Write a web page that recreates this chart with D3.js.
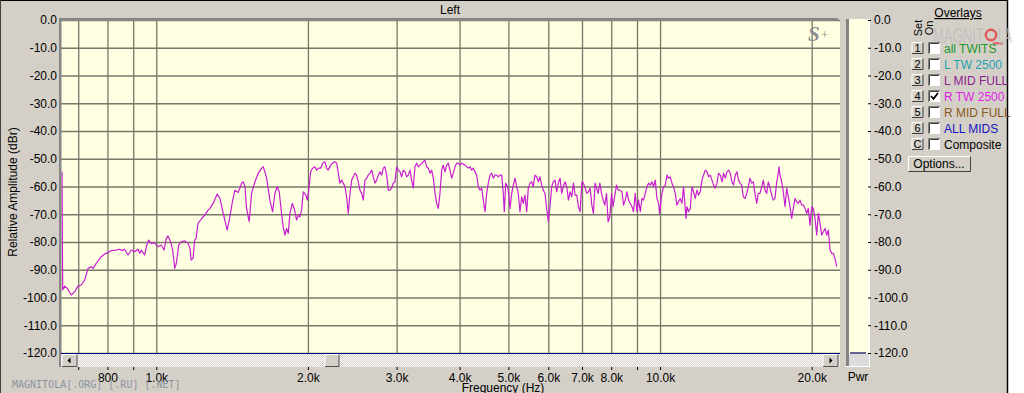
<!DOCTYPE html>
<html>
<head>
<meta charset="utf-8">
<script src="https://cdn.jsdelivr.net/npm/d3@7"></script>
<style>
	body { margin: 0; background: #ffffff; }
	svg { display: block; font-family: Arial, "Liberation Sans", sans-serif; }
	.grid line { stroke: #78786a; stroke-width: 1.3; }
	.axis text { font-size: 12px; fill: #000; }
	.axis line { stroke: #000; }
</style>
</head>
<body>
<div id="chart"></div>
<script>

// frequency response of the "R TW 2500" overlay, [Hz, dBr]
var rTw2500 = [
	[650,-54.7],[652,-97.3],[658,-95.9],[666,-96.7],[678,-99.1],[689,-97.9],[699,-95.9],[710,-95.5],
	[721,-93.7],[732,-89.5],[743,-88.9],[749,-89.5],[760,-87.7],[778,-85.3],[790,-84.3],[802,-83.9],
	[814,-83.1],[833,-82.9],[846,-82.6],[855,-83.1],[865,-82.6],[879,-84.7],[892,-82.9],[906,-83.5],
	[920,-82.6],[927,-84.1],[934,-82.9],[948,-84.7],[955,-81.9],[966,-79.3],[977,-80.5],[992,-80.3],
	[1008,-81.7],[1023,-81.1],[1036,-82.9],[1047,-78.7],[1055,-77.8],[1068,-79.9],[1079,-83.5],[1088,-89.5],
	[1096,-87.7],[1108,-81.1],[1121,-79.9],[1139,-79.6],[1156,-80.5],[1167,-82.3],[1173,-86.5],[1183,-85.9],
	[1192,-79.3],[1200,-78.7],[1210,-73.3],[1228,-71.8],[1248,-70.3],[1267,-68.5],[1278,-67.9],[1297,-66.1],
	[1321,-62.7],[1338,-64.3],[1358,-69.7],[1383,-75.7],[1400,-70.9],[1418,-64.9],[1433,-61.3],[1454,-62.2],
	[1477,-58.8],[1488,-58.3],[1500,-60.1],[1511,-67.9],[1529,-72.7],[1546,-62.5],[1570,-58.3],[1594,-55.2],
	[1619,-53.4],[1630,-52.9],[1643,-54.7],[1656,-57.0],[1681,-64.9],[1702,-69.1],[1720,-62.5],[1738,-60.1],
	[1754,-61.9],[1773,-69.7],[1786,-74.5],[1800,-77.5],[1814,-75.1],[1828,-76.9],[1842,-69.7],[1862,-66.1],
	[1879,-67.9],[1899,-72.1],[1913,-70.3],[1928,-70.9],[1943,-68.5],[1958,-61.9],[1982,-63.1],[1994,-64.9],
	[2006,-61.9],[2025,-54.7],[2043,-53.4],[2065,-52.9],[2081,-54.1],[2100,-53.4],[2120,-53.4],[2139,-51.6],
	[2162,-51.1],[2178,-53.4],[2194,-54.1],[2219,-52.3],[2245,-51.4],[2263,-51.1],[2281,-51.6],[2298,-55.2],
	[2315,-58.8],[2334,-57.7],[2351,-58.8],[2369,-60.1],[2387,-63.7],[2405,-69.7],[2424,-62.5],[2443,-57.7],
	[2461,-56.5],[2480,-55.2],[2499,-55.9],[2517,-58.3],[2537,-61.3],[2557,-62.5],[2576,-64.9],[2596,-57.7],
	[2616,-57.0],[2635,-55.9],[2656,-55.2],[2677,-54.1],[2696,-56.5],[2717,-58.8],[2738,-57.7],[2759,-55.9],
	[2780,-54.7],[2802,-55.9],[2822,-53.4],[2844,-52.9],[2867,-55.9],[2888,-61.3],[2910,-61.3],[2933,-60.6],
	[2954,-58.8],[2977,-58.3],[3001,-52.9],[3023,-54.1],[3046,-54.7],[3070,-56.5],[3092,-54.1],[3117,-54.7],
	[3141,-56.5],[3164,-55.9],[3189,-54.1],[3213,-57.7],[3237,-60.6],[3262,-52.9],[3288,-51.6],[3312,-52.9],
	[3338,-52.3],[3364,-51.6],[3388,-51.1],[3415,-50.5],[3442,-52.9],[3467,-53.4],[3494,-55.2],[3521,-54.1],
	[3547,-57.0],[3575,-62.5],[3603,-66.1],[3629,-67.9],[3657,-62.5],[3686,-54.1],[3713,-52.3],[3742,-54.7],
	[3771,-52.3],[3799,-51.6],[3828,-54.1],[3858,-57.0],[3887,-55.2],[3917,-52.9],[3947,-51.6],[3976,-51.6],
	[4007,-52.3],[4038,-51.6],[4100,-52.3],[4162,-53.4],[4195,-52.9],[4227,-54.1],[4258,-53.4],[4292,-54.7],
	[4325,-55.9],[4357,-60.1],[4391,-61.3],[4426,-60.6],[4458,-64.9],[4493,-69.1],[4528,-62.5],[4561,-58.8],
	[4597,-55.9],[4633,-55.2],[4667,-57.0],[4703,-55.9],[4740,-55.9],[4774,-56.5],[4812,-55.9],[4849,-55.9],
	[4885,-62.5],[4907,-69.1],[4939,-58.8],[4984,-60.1],[5014,-63.7],[5037,-67.9],[5076,-62.5],[5113,-59.5],
	[5153,-57.0],[5193,-60.1],[5231,-62.5],[5272,-69.1],[5313,-63.7],[5352,-66.1],[5394,-63.1],[5436,-69.1],
	[5476,-60.6],[5519,-58.8],[5562,-58.3],[5602,-60.1],[5646,-55.9],[5690,-56.5],[5732,-58.3],[5777,-56.5],
	[5822,-59.5],[5864,-61.3],[5910,-62.5],[5956,-67.9],[6000,-72.7],[6047,-67.3],[6094,-60.1],[6139,-58.3],
	[6187,-57.7],[6235,-61.9],[6281,-58.8],[6330,-57.0],[6379,-62.5],[6426,-60.1],[6476,-58.3],[6530,-60.1],
	[6578,-64.9],[6629,-61.9],[6681,-63.7],[6730,-58.8],[6783,-63.1],[6836,-63.1],[6886,-67.3],[6939,-69.1],
	[6996,-58.3],[7045,-58.8],[7100,-60.6],[7155,-62.5],[7208,-61.9],[7264,-60.6],[7321,-66.7],[7374,-69.7],
	[7432,-58.8],[7480,-60.6],[7535,-62.5],[7594,-58.8],[7653,-62.5],[7709,-64.9],[7769,-66.7],[7830,-62.5],
	[7887,-72.7],[7949,-70.9],[8011,-62.5],[8070,-67.3],[8133,-63.1],[8196,-59.5],[8256,-61.3],[8321,-61.3],
	[8402,-61.9],[8463,-66.7],[8529,-64.9],[8596,-61.9],[8659,-64.9],[8727,-66.1],[8795,-67.3],[8859,-69.1],
	[8928,-62.5],[8998,-69.1],[9064,-64.9],[9135,-69.1],[9206,-64.3],[9274,-64.9],[9346,-62.5],[9419,-60.1],
	[9488,-58.8],[9562,-59.5],[9637,-58.3],[9707,-60.1],[9783,-57.7],[9859,-64.3],[9932,-66.1],[9977,-69.7],
	[10023,-66.7],[10087,-62.5],[10161,-60.1],[10241,-59.5],[10320,-55.9],[10396,-57.0],[10477,-56.5],[10559,-58.8],
	[10636,-60.1],[10719,-62.5],[10803,-66.7],[10882,-65.5],[10967,-64.3],[11053,-66.1],[11134,-60.1],[11221,-67.9],
	[11257,-71.5],[11308,-67.3],[11391,-69.1],[11480,-67.9],[11570,-60.1],[11655,-61.9],[11746,-64.3],[11837,-61.3],
	[11924,-63.1],[12017,-61.9],[12111,-57.7],[12200,-55.9],[12295,-54.1],[12391,-54.7],[12482,-56.5],[12579,-55.9],
	[12677,-57.7],[12770,-59.5],[12870,-60.6],[12971,-58.8],[13066,-55.2],[13168,-55.9],[13271,-58.3],[13368,-55.2],
	[13472,-57.0],[13577,-54.7],[13677,-54.1],[13784,-55.2],[13891,-58.3],[13993,-59.5],[14102,-55.9],[14212,-54.7],
	[14317,-57.7],[14411,-58.8],[14524,-59.5],[14630,-63.7],[14744,-64.3],[14859,-62.5],[14969,-60.1],[15085,-57.0],
	[15203,-58.8],[15314,-58.3],[15434,-62.5],[15554,-66.1],[15668,-62.5],[15790,-62.5],[15914,-60.1],[16031,-57.7],
	[16156,-61.3],[16282,-62.5],[16401,-58.3],[16529,-60.6],[16658,-63.1],[16781,-64.9],[16911,-64.3],[17043,-58.3],
	[17121,-56.5],[17223,-52.9],[17302,-55.9],[17437,-58.3],[17565,-61.9],[17702,-67.3],[17840,-60.6],[17971,-63.7],
	[18112,-67.3],[18253,-71.5],[18387,-67.9],[18530,-64.3],[18675,-65.5],[18812,-66.1],[18959,-64.9],[19106,-66.7],
	[19246,-66.7],[19397,-67.9],[19548,-69.7],[19692,-67.9],[19845,-73.9],[20000,-67.3],[20147,-67.9],[20304,-71.5],
	[20462,-77.5],[20613,-69.7],[20773,-73.3],[20935,-77.5],[21089,-76.3],[21254,-75.1],[21419,-77.5],[21576,-75.7],
	[21745,-82.9],[21913,-84.1],[22075,-84.1],[22248,-85.9],[22419,-88.9]
];

// axes
var freqDomain = [647, 22760];
var dbDomain = [0, -120];
var dbTicks = [0, -10, -20, -30, -40, -50, -60, -70, -80, -90, -100, -110, -120];
var freqTicks = [700, 800, 900, 1000, 2000, 3000, 4000, 5000, 6000, 7000, 8000, 9000, 10000, 20000];
var freqTickLabels = ["", "800", "", "1.0k", "2.0k", "3.0k", "4.0k", "5.0k", "6.0k", "7.0k", "8.0k", "", "10.0k", "20.0k"];

// overlay list on the right
var overlaySets = ["1", "2", "3", "4", "5", "6", "C"];
var overlayNames = ["all TWITS", "L TW 2500", "L MID FULL", "R TW 2500", "R MID FULL", "ALL MIDS", "Composite"];
var overlayChecked = [false, false, false, true, false, false, false];
var overlayColors = ["#20962a", "#22a2b2", "#8e1c92", "#e01ee6", "#8a5a1a", "#1414c0", "#000000"];


/*
 * SpectrumVis - Object constructor function
 * @param _parentElement 	-- the HTML element in which to draw the visualization
 * @param _data						-- the response curve
 */
SpectrumVis = function(_parentElement, _data){
	this.parentElement = _parentElement;
	this.data = _data;
	this.initVis();
}

SpectrumVis.prototype.initVis = function(){
	var vis = this;

	vis.width = 1024;
	vis.height = 393;
	vis.plot = { left: 61, right: 840, top: 20, bottom: 353 };

	vis.svg = d3.select("#" + vis.parentElement).append("svg")
		.attr("width", vis.width)
		.attr("height", vis.height);

	// window background and frame
	vis.svg.append("rect").attr("width", vis.width).attr("height", vis.height).attr("fill", "#d4d0c8");
	vis.svg.append("rect").attr("x", 1008).attr("width", 16).attr("height", vis.height).attr("fill", "#ffffff");
	vis.svg.append("line").attr("x1", 1007.5).attr("x2", 1007.5).attr("y1", 0).attr("y2", vis.height)
		.attr("stroke", "#000").attr("stroke-width", 1.5);
	vis.svg.append("line").attr("x1", 0).attr("x2", 1008).attr("y1", 0.5).attr("y2", 0.5)
		.attr("stroke", "#000");
	vis.svg.append("line").attr("x1", 0.5).attr("x2", 0.5).attr("y1", 0).attr("y2", vis.height)
		.attr("stroke", "#404040");

	vis.x = d3.scaleLog().domain(freqDomain).range([vis.plot.left, vis.plot.right]);
	vis.y = d3.scaleLinear().domain(dbDomain).range([vis.plot.top, vis.plot.bottom]);

	vis.drawPlot();
	vis.drawScrollbar();
	vis.drawMeter();
	vis.drawOverlays();
	vis.drawTexts();
}

SpectrumVis.prototype.drawPlot = function(){
	var vis = this;
	var p = vis.plot;

	vis.svg.append("rect")
		.attr("x", p.left).attr("y", p.top)
		.attr("width", p.right - p.left).attr("height", p.bottom - p.top)
		.attr("fill", "#ffffe1");

	// grid lines, drawn with the axes themselves
	vis.svg.append("g")
		.attr("class", "grid")
		.attr("transform", "translate(0," + p.bottom + ")")
		.call(d3.axisBottom(vis.x).tickValues(freqTicks).tickSize(-(p.bottom - p.top)).tickFormat(""))
		.call(function(g){ g.select(".domain").remove(); });

	vis.svg.append("g")
		.attr("class", "grid")
		.attr("transform", "translate(" + p.left + ",0)")
		.call(d3.axisLeft(vis.y).tickValues(dbTicks).tickSize(-(p.right - p.left)).tickFormat(""))
		.call(function(g){ g.select(".domain").remove(); });

	// y axis labels
	vis.svg.append("g")
		.attr("class", "axis")
		.attr("transform", "translate(" + p.left + ",0)")
		.call(d3.axisLeft(vis.y).tickValues(dbTicks).tickSize(0).tickPadding(4)
			.tickFormat(function(d){ return d.toFixed(1); }))
		.call(function(g){ g.select(".domain").remove(); });

	// the response curve
	vis.svg.append("clipPath").attr("id", "plot-clip")
		.append("rect")
		.attr("x", p.left).attr("y", p.top)
		.attr("width", p.right - p.left).attr("height", p.bottom - p.top);

	var line = d3.line()
		.x(function(d){ return vis.x(d[0]); })
		.y(function(d){ return vis.y(d[1]); });

	vis.svg.append("path")
		.datum(vis.data)
		.attr("clip-path", "url(#plot-clip)")
		.attr("fill", "none")
		.attr("stroke", "#c81ed2")
		.attr("stroke-width", 1.2)
		.attr("stroke-linejoin", "round")
		.attr("d", line);

	// sunken border on top and left
	vis.svg.append("rect").attr("x", 59).attr("y", 18).attr("width", p.right - 59 - 2).attr("height", 3)
		.attr("fill", "#868686");
	vis.svg.append("rect").attr("x", 59).attr("y", 18).attr("width", 2.5).attr("height", 349)
		.attr("fill", "#868686");

	// S+ logo
	vis.svg.append("text").attr("x", 808).attr("y", 41)
		.attr("font-family", "'Liberation Serif', serif").attr("font-style", "italic")
		.attr("font-weight", "bold").attr("font-size", 21).attr("fill", "#8e8e8e")
		.text("S");
	vis.svg.append("text").attr("x", 821).attr("y", 39)
		.attr("font-family", "'Liberation Serif', serif").attr("font-size", 13).attr("fill", "#8e8e8e")
		.text("+");
}

SpectrumVis.prototype.drawScrollbar = function(){
	var vis = this;
	var p = vis.plot;

	var defs = vis.svg.append("defs");
	var pat = defs.append("pattern").attr("id", "hatch")
		.attr("width", 2).attr("height", 2).attr("patternUnits", "userSpaceOnUse");
	pat.append("rect").attr("width", 2).attr("height", 2).attr("fill", "#d4d0c8");
	pat.append("rect").attr("width", 1).attr("height", 1).attr("fill", "#ffffff");
	pat.append("rect").attr("x", 1).attr("y", 1).attr("width", 1).attr("height", 1).attr("fill", "#ffffff");

	vis.svg.append("rect").attr("x", p.left).attr("y", p.bottom)
		.attr("width", p.right - p.left).attr("height", 14).attr("fill", "url(#hatch)");
	vis.svg.append("line").attr("x1", p.left).attr("x2", p.right)
		.attr("y1", p.bottom + 0.5).attr("y2", p.bottom + 0.5)
		.attr("stroke", "#000080").attr("stroke-width", 1.2);

	var buttons = [
		{ x: 62, w: 15, arrow: "left" },
		{ x: 325, w: 14, arrow: null },
		{ x: 823, w: 15, arrow: "right" }
	];
	buttons.forEach(function(b){
		var y0 = p.bottom + 1.5, h = 12;
		vis.svg.append("rect").attr("x", b.x).attr("y", y0).attr("width", b.w).attr("height", h)
			.attr("fill", "#d4d0c8");
		vis.svg.append("path")
			.attr("d", "M" + b.x + "," + (y0 + h) + "V" + y0 + "H" + (b.x + b.w))
			.attr("fill", "none").attr("stroke", "#ffffff");
		vis.svg.append("path")
			.attr("d", "M" + b.x + "," + (y0 + h) + "H" + (b.x + b.w) + "V" + y0)
			.attr("fill", "none").attr("stroke", "#505050");
		if (b.arrow) {
			var cx = b.x + b.w / 2, cy = y0 + h / 2;
			var d = b.arrow == "left"
				? "M" + (cx - 2) + "," + cy + "L" + (cx + 1) + "," + (cy - 3) + "L" + (cx + 1) + "," + (cy + 3) + "Z"
				: "M" + (cx + 2) + "," + cy + "L" + (cx - 1) + "," + (cy - 3) + "L" + (cx - 1) + "," + (cy + 3) + "Z";
			vis.svg.append("path").attr("d", d).attr("fill", "#000");
		}
	});

	// frequency axis below the scrollbar
	vis.svg.append("g")
		.attr("class", "axis")
		.attr("transform", "translate(0," + (p.bottom + 14) + ")")
		.call(d3.axisBottom(vis.x).tickValues(freqTicks).tickSize(3).tickPadding(3)
			.tickFormat(function(d, i){ return freqTickLabels[i]; }))
		.call(function(g){ g.select(".domain").remove(); });
}

SpectrumVis.prototype.drawMeter = function(){
	var vis = this;
	var p = vis.plot;

	vis.svg.append("rect").attr("x", 846).attr("y", 19).attr("width", 3).attr("height", 348).attr("fill", "#848484");
	vis.svg.append("rect").attr("x", 849).attr("y", 19).attr("width", 20).attr("height", 335).attr("fill", "#ffffe1");
	vis.svg.append("rect").attr("x", 849).attr("y", 354).attr("width", 20).attr("height", 12).attr("fill", "#dcdcdc");
	vis.svg.append("line").attr("x1", 869.5).attr("x2", 869.5).attr("y1", 19).attr("y2", 367).attr("stroke", "#fff");
	vis.svg.append("line").attr("x1", 846).attr("x2", 870).attr("y1", 366.5).attr("y2", 366.5).attr("stroke", "#fff");
	vis.svg.append("line").attr("x1", 850).attr("x2", 866)
		.attr("y1", vis.y(-120)).attr("y2", vis.y(-120))
		.attr("stroke", "#000060").attr("stroke-width", 1.2);

	vis.svg.append("g")
		.attr("class", "axis")
		.attr("transform", "translate(868,0)")
		.call(d3.axisRight(vis.y).tickValues(dbTicks).tickSize(3).tickPadding(3)
			.tickFormat(function(d){ return d.toFixed(1); }))
		.call(function(g){ g.select(".domain").remove(); });

	vis.svg.append("text").attr("x", 858).attr("y", 381)
		.attr("text-anchor", "middle").attr("font-size", 12).text("Pwr");
}

SpectrumVis.prototype.drawOverlays = function(){
	var vis = this;

	// faint watermark behind the list
	var wm = vis.svg.append("g").attr("opacity", 0.75);
	wm.append("text").attr("x", 933).attr("y", 43)
		.attr("font-family", "'Liberation Sans Narrow', 'Liberation Sans', sans-serif")
		.attr("font-size", 22).attr("fill", "#bcbcbc")
		.attr("textLength", 51).attr("lengthAdjust", "spacingAndGlyphs")
		.text("MAGNIT");
	wm.append("circle").attr("cx", 991).attr("cy", 35).attr("r", 5.2)
		.attr("fill", "none").attr("stroke", "#e03030").attr("stroke-width", 2.4);
	wm.append("rect").attr("x", 993).attr("y", 42).attr("width", 10).attr("height", 2.5).attr("fill", "#e05050");
	wm.append("text").attr("x", 998).attr("y", 43)
		.attr("font-family", "'Liberation Sans Narrow', 'Liberation Sans', sans-serif")
		.attr("font-size", 22).attr("fill", "#bcbcbc")
		.attr("textLength", 14).attr("lengthAdjust", "spacingAndGlyphs")
		.text("LA");

	vis.svg.append("text").attr("x", 958).attr("y", 17)
		.attr("text-anchor", "middle").attr("font-size", 12).attr("text-decoration", "underline")
		.text("Overlays");
	vis.svg.append("text").attr("transform", "translate(922,28) rotate(-90)")
		.attr("text-anchor", "middle").attr("font-size", 11).text("Set");
	vis.svg.append("text").attr("transform", "translate(933,28) rotate(-90)")
		.attr("text-anchor", "middle").attr("font-size", 11).text("On");

	var rows = vis.svg.selectAll(".overlay").data(overlayNames)
		.enter().append("g")
		.attr("class", "overlay")
		.attr("transform", function(d, i){ return "translate(0," + (48 + i * 16) + ")"; });

	// set button
	rows.append("rect").attr("x", 912).attr("y", -5.5).attr("width", 11).attr("height", 11).attr("fill", "#d4d0c8");
	rows.append("path").attr("d", "M912,5.5V-5.5H923").attr("fill", "none").attr("stroke", "#fff");
	rows.append("path").attr("d", "M912,5.5H923V-5.5").attr("fill", "none").attr("stroke", "#404040");
	rows.append("text").attr("x", 917.5).attr("y", 4.2).attr("text-anchor", "middle")
		.attr("font-size", 11).text(function(d, i){ return overlaySets[i]; });

	// check box
	rows.append("rect").attr("x", 928.5).attr("y", -5.5).attr("width", 11.5).attr("height", 11.5)
		.attr("fill", "#ffffff");
	rows.append("path").attr("d", "M928.5,6V-5.5H940").attr("fill", "none").attr("stroke", "#808080");
	rows.append("path").attr("d", "M929.5,5V-4.5H939").attr("fill", "none").attr("stroke", "#404040");
	rows.filter(function(d, i){ return overlayChecked[i]; })
		.append("path").attr("d", "M931,0 L933.5,2.8 L938,-3")
		.attr("fill", "none").attr("stroke", "#000").attr("stroke-width", 1.8);

	rows.append("text").attr("x", 944).attr("y", 4.5).attr("font-size", 12)
		.attr("fill", function(d, i){ return overlayColors[i]; })
		.text(function(d){ return d; });

	// options button
	vis.svg.append("rect").attr("x", 908).attr("y", 156.5).attr("width", 62).attr("height", 15).attr("fill", "#d4d0c8");
	vis.svg.append("path").attr("d", "M908.5,171.5V156.5H970").attr("fill", "none").attr("stroke", "#fff");
	vis.svg.append("path").attr("d", "M908.5,171.5H970.5V156.5").attr("fill", "none").attr("stroke", "#404040");
	vis.svg.append("text").attr("x", 939).attr("y", 168).attr("text-anchor", "middle")
		.attr("font-size", 12).text("Options...");
}

SpectrumVis.prototype.drawTexts = function(){
	var vis = this;

	vis.svg.append("text").attr("x", 450).attr("y", 14)
		.attr("text-anchor", "middle").attr("font-size", 12).text("Left");

	vis.svg.append("text").attr("x", 503).attr("y", 392)
		.attr("text-anchor", "middle").attr("font-size", 12).text("Frequency (Hz)");

	vis.svg.append("text").attr("transform", "translate(17,192) rotate(-90)")
		.attr("text-anchor", "middle").attr("font-size", 12).text("Relative Amplitude (dBr)");

	vis.svg.append("text").attr("x", 12).attr("y", 388)
		.attr("font-family", "'DejaVu Sans Mono', monospace").attr("font-size", 10)
		.attr("fill", "#8d94a0")
		.text("MAGNITOLA[.ORG] [.RU] [.NET]");
}

new SpectrumVis("chart", rTw2500);

</script>
</body>
</html>
